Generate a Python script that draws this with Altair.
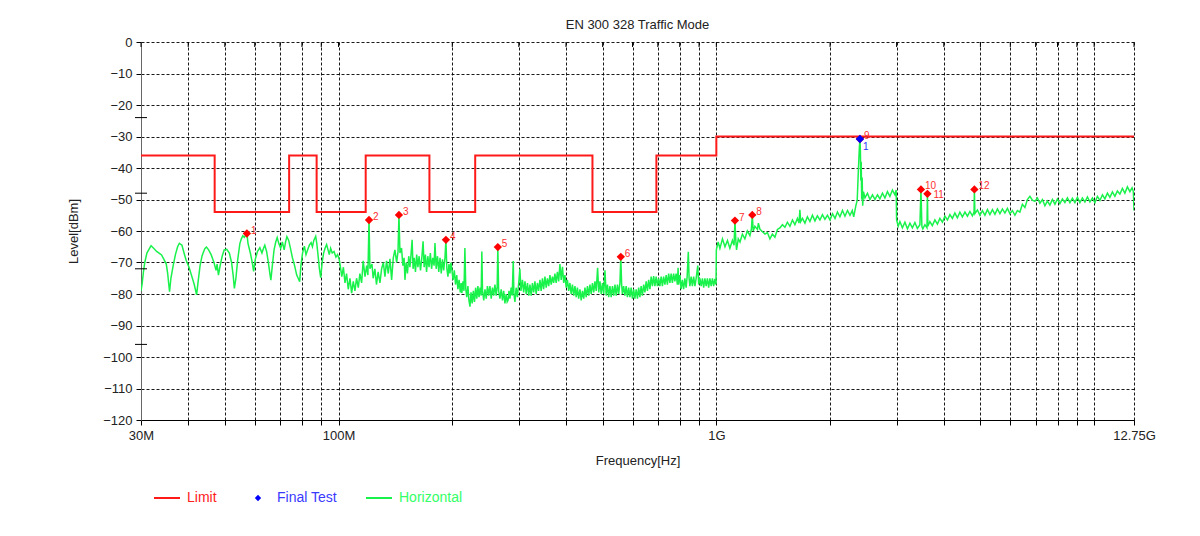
import altair as alt
import pandas as pd

title_text = "EN 300 328 Traffic Mode"
x_title = "Frequency[Hz]"
y_title = "Level[dBm]"

x_tick_values = [30, 40, 50, 60, 70, 80, 90, 100, 200, 300, 400, 500, 600, 700, 800, 900,
                 1000, 2000, 3000, 4000, 5000, 6000, 7000, 8000, 9000, 10000, 12750]
y_tick_values = [-120, -110, -100, -90, -80, -70, -60, -50, -40, -30, -20, -10, 0]
y_cross_ticks = [-24, -48, -72, -96]

limit_freq = [30, 47, 47, 74, 74, 87.5, 87.5, 118, 118, 174, 174, 230, 230, 470, 470, 694, 694, 1000, 1000, 12750]
limit_level = [-36, -36, -54, -54, -36, -36, -54, -54, -36, -36, -54, -54, -36, -36, -54, -54, -36, -36, -30, -30]

peak_no = ["1", "2", "3", "4", "5", "6", "7", "8", "9", "10", "11", "12"]
peak_freq = [57.2, 120.4, 144.5, 192.4, 264.0, 558.6, 1120, 1245, 2399, 3480, 3620, 4820]
peak_level = [-60.8, -56.5, -54.9, -62.8, -65.1, -68.2, -56.7, -54.9, -30.8, -46.8, -48.2, -46.8]

final_no = ["1"]
final_freq = [2399]
final_level = [-30.8]

# Horizontal trace (MHz, dBm)
seg_30M_100M = [
    (30.0, -79), (30.2, -76.9), (30.45, -73), (30.7, -70), (31.1, -67), (31.6, -65.5), (31.9, -64.7),
    (32.4, -65.5), (33.0, -66.5), (33.5, -67), (34.0, -67.6), (34.5, -69), (35.0, -70.5), (35.3, -73.5),
    (35.5, -76.5), (35.7, -79.3), (36.0, -75), (36.5, -71), (37.0, -67.5), (37.5, -65), (37.9, -63.9),
    (38.5, -64.5), (39.0, -67), (39.5, -69.3), (40.2, -71.5), (40.8, -74), (41.5, -77), (42.1, -80.3),
    (42.5, -76), (43.0, -71), (43.5, -68), (43.9, -66.7), (44.3, -65.5), (44.7, -65.1), (45.3, -66),
    (46.0, -67.5), (46.8, -70), (47.4, -72.5), (47.7, -70.5), (48.1, -74), (48.6, -71), (49.2, -68),
    (49.8, -66), (50.6, -65.8), (51.4, -67), (52.1, -70), (52.6, -74), (53.0, -78.2), (53.5, -75),
    (54.1, -69), (54.8, -64), (55.3, -62.5), (55.8, -61.5), (56.3, -62), (57.2, -60.8), (57.6, -64),
    (58.5, -67.3), (59.1, -70), (59.6, -72.8), (60.2, -69), (61.0, -66.5), (61.9, -65.3), (62.7, -67),
    (63.3, -65.5), (63.8, -64.5), (64.5, -66.5), (65.2, -70), (65.8, -73.5), (66.2, -75.6), (66.8, -71),
    (67.5, -66), (68.2, -63.5), (68.8, -62.1), (69.5, -64), (70.3, -65.5), (71.0, -63.5), (71.8, -66),
    (72.4, -63.5), (73.0, -61.8), (73.8, -63), (74.6, -65.5), (75.5, -68.5), (76.5, -71), (77.5, -74),
    (78.2, -75), (78.9, -76.1), (79.5, -71), (80.3, -67), (81.2, -64.8), (82.0, -67.5), (82.8, -66),
    (83.7, -64.5), (84.6, -63.7), (85.3, -65), (86.0, -63), (87.0, -61.7), (87.6, -64), (88.3, -68),
    (89.0, -72), (89.7, -74.8), (90.5, -70), (91.3, -67), (92.1, -65.5), (93.0, -64.3), (93.8, -66),
    (94.5, -67.5), (95.3, -65.5), (96.2, -67), (97.3, -66.5), (98.4, -68.3), (99.4, -67.5), (100.4, -69),
]

seg_100M_300M = [
    (100.9, -70.5), (102.0, -74.5), (103.0, -71.5), (104.0, -76.5), (105.0, -73.5), (106.1, -78.5),
    (107.2, -75), (108.3, -79.7), (109.4, -76), (110.5, -79), (111.6, -75), (112.8, -78), (113.9, -73.5),
    (115.1, -76.5), (116.2, -69.5), (117.5, -74.5), (118.7, -71), (119.6, -74), (120.4, -56.5),
    (121.1, -72), (122.6, -70.5), (123.5, -75), (124.8, -72), (126.0, -77), (127.3, -73), (128.7, -76.5),
    (130.0, -72), (131.4, -70), (132.7, -74.5), (134.0, -69.5), (135.4, -73.5), (136.8, -68.8),
    (138.2, -75.5), (139.6, -68.5), (141.0, -66), (142.5, -70), (143.7, -66.5), (144.5, -54.9),
    (145.4, -67), (146.8, -65.4), (148.0, -71), (149.1, -68.5), (149.9, -75.5), (151.0, -70),
    (152.2, -73.5), (153.4, -68), (154.5, -71.5), (155.2, -69), (156.6, -62.8), (157.5, -72),
    (158.6, -68.5), (159.8, -73), (161.0, -67.5), (162.2, -71.5), (163.4, -68), (164.8, -72.5),
    (166.0, -69), (167.4, -63.3), (168.5, -71.5), (169.8, -67.5), (171.0, -73), (172.3, -68),
    (173.6, -71.5), (175.0, -67), (176.3, -72), (177.6, -68.5), (179.0, -71), (180.0, -63.8),
    (181.3, -72), (182.8, -68), (184.2, -73), (185.6, -68.5), (187.0, -73.5), (188.4, -69),
    (189.8, -72.5), (191.3, -68.5), (192.4, -62.8), (193.5, -72), (194.8, -74.5), (196.0, -70.5),
    (197.2, -73.5), (198.4, -70), (199.5, -72.3), (201.0, -75.5), (202.5, -72.5), (204.0, -77),
    (205.5, -74), (207.0, -78.5), (208.5, -75.5), (210.0, -79.5), (211.2, -76.5), (212.0, -79.7),
    (213.5, -76), (214.8, -79), (216.0, -65.4), (217.2, -78.5), (218.5, -81), (220.0, -77.5),
    (221.4, -82), (222.8, -84), (224.2, -79.5), (225.8, -83), (227.4, -79), (229.0, -82.5),
    (230.6, -78), (232.2, -81.5), (233.8, -77.5), (235.4, -81), (237.0, -78), (238.5, -80.5),
    (239.5, -66.5), (240.5, -79), (242.3, -82), (244.1, -78.5), (246.0, -81.5), (247.8, -77.5),
    (249.7, -80.5), (251.6, -77.5), (253.6, -81.5), (255.5, -78), (257.4, -80.5), (259.4, -77),
    (261.4, -80.5), (263.0, -77.5), (264.0, -65.1), (265.3, -79), (267.4, -81.5), (269.5, -78.5),
    (271.6, -82), (273.6, -79), (275.7, -83), (277.8, -80), (279.5, -82.5), (281.0, -82),
    (282.6, -79), (284.2, -81.5), (286.3, -78), (288.2, -80.5), (290.0, -69.5), (291.2, -80),
    (293.0, -82.5), (295.2, -78), (297.5, -81), (299.8, -76.5), (302.0, -72), (304.0, -79),
]

seg_300M_1G = [
    (306.8, -75.5), (309.0, -79.5), (311.5, -76), (313.8, -80), (316.3, -76.5), (318.7, -80.5),
    (321.1, -77), (323.5, -80.5), (326.0, -76.5), (328.5, -79.5), (331.0, -76), (333.5, -80),
    (336.0, -76.5), (338.5, -79), (341.3, -75.5), (343.8, -79), (346.5, -75), (349.0, -78.5),
    (351.8, -74.5), (354.5, -78), (357.2, -75), (360.0, -77.5), (362.7, -74), (365.5, -77),
    (368.3, -74.5), (371.0, -76.5), (373.9, -73.5), (376.7, -76.5), (379.6, -73), (382.5, -76),
    (385.5, -70.5), (388.5, -75.5), (391.5, -71.4), (394.4, -76.5), (397.4, -74), (400.5, -78),
    (403.5, -75.5), (406.6, -79), (409.7, -76.5), (412.8, -80), (416.0, -77), (419.2, -80.5),
    (422.4, -77.5), (425.6, -81), (428.8, -78), (432.1, -81.5), (435.5, -78.5), (438.8, -82),
    (442.2, -79), (445.6, -81.5), (449.0, -78), (452.4, -81), (455.9, -77.5), (459.4, -80.5),
    (462.9, -77), (466.4, -80), (470.0, -76.5), (473.6, -79.5), (477.2, -76), (480.9, -79),
    (485.0, -71.7), (488.3, -79.5), (492.0, -76), (495.8, -80), (499.6, -76.5), (503.4, -80),
    (507.2, -72.5), (511.0, -80.5), (515.0, -77), (518.8, -81), (522.8, -77.5), (526.8, -81),
    (530.9, -77.5), (535.0, -80.5), (539.1, -77), (543.2, -80.5), (547.4, -77), (551.5, -80),
    (555.7, -76.5), (558.6, -68.2), (561.5, -77), (564.0, -80), (568.4, -77.5), (572.8, -80.5),
    (577.2, -77.5), (581.6, -81), (586.1, -78), (590.6, -81), (595.1, -78), (599.7, -81.5),
    (604.2, -78.5), (608.8, -81.5), (613.5, -78.5), (618.2, -81.5), (622.9, -78), (627.6, -81),
    (632.3, -77.5), (637.2, -80.5), (642.1, -77), (647.0, -79.5), (652.0, -76), (657.0, -79),
    (662.0, -75.5), (667.1, -78.5), (672.2, -74.5), (677.4, -77.5), (682.5, -74.3), (687.7, -77.5),
    (693.0, -74.5), (698.3, -77.5), (703.6, -75), (708.9, -77.5), (714.4, -74.5), (719.8, -77.5),
    (725.3, -74.5), (730.9, -77), (736.5, -74), (742.0, -77), (747.8, -73.5), (753.5, -76.5),
    (759.3, -73.5), (765.0, -76.5), (770.9, -73.5), (776.7, -76), (782.6, -73.5), (788.6, -77),
    (792.0, -71.7), (794.6, -77), (800.8, -74), (806.8, -78.5), (813.0, -75.5), (819.2, -78.5),
    (825.5, -75), (831.8, -78), (837.0, -74.5), (843.0, -66.6), (847.0, -75), (851.1, -77.5),
    (857.6, -74.5), (864.2, -77.5), (870.9, -74.5), (877.6, -77.5), (884.3, -75), (893.0, -71),
    (898.0, -77), (904.7, -75), (911.6, -77.5), (918.6, -75), (925.6, -78), (932.6, -75),
    (939.7, -77.5), (947.0, -75), (954.2, -78), (961.6, -75), (969.0, -77.5), (976.4, -75),
    (983.8, -77.5), (991.3, -75.2), (998.0, -77),
]

seg_1G_3G = [
    (1000, -66), (1011, -63.5), (1022, -65.5), (1038, -62.5), (1054, -65), (1070, -63), (1086, -65.5),
    (1103, -63), (1114, -64.5), (1120, -56.7), (1126, -63), (1131, -66), (1143, -62.5), (1155, -63.5),
    (1172, -61), (1190, -62.5), (1208, -60), (1227, -61.5), (1238, -59.5), (1245, -54.9), (1252, -60),
    (1265, -58.5), (1285, -59.5), (1292, -57.5), (1305, -59.5), (1319, -60), (1345, -61), (1365, -60.5),
    (1386, -62.5), (1407, -61), (1429, -62), (1451, -59.5), (1473, -59), (1496, -58), (1519, -58.8),
    (1542, -57.2), (1566, -58.5), (1590, -56.5), (1614, -58), (1639, -56), (1655, -57.5), (1664, -53.3),
    (1672, -57), (1690, -56), (1716, -57.5), (1742, -55.5), (1769, -57), (1796, -55), (1824, -56.8),
    (1851, -55.2), (1880, -56.5), (1909, -54.8), (1938, -56.3), (1968, -55), (1999, -56.5), (2030, -54.5),
    (2061, -56), (2092, -54), (2124, -55.5), (2157, -53.5), (2190, -55.3), (2224, -53.5), (2258, -55),
    (2290, -53.5), (2310, -55.5), (2340, -52), (2360, -50.2), (2376, -41), (2390, -34), (2399, -30.8),
    (2406, -34.3), (2412, -44), (2418, -38), (2425, -50), (2432, -43), (2440, -52), (2452, -47.5),
    (2474, -49.5), (2512, -48), (2550, -50), (2590, -48.5), (2630, -50), (2670, -48.5), (2710, -49.8),
    (2752, -48), (2794, -49.5), (2837, -47.5), (2880, -49), (2925, -47), (2969, -48.5), (2992, -47),
]

seg_3G_12G = [
    (3000, -56.5), (3030, -58.5), (3061, -57), (3108, -59), (3156, -57.2), (3205, -59.3), (3254, -57.5),
    (3303, -59), (3354, -57.3), (3405, -59.2), (3458, -58), (3480, -46.8), (3500, -58.5), (3520, -59.3),
    (3565, -58), (3610, -59), (3620, -48.2), (3630, -58.5), (3675, -57), (3730, -58.3), (3789, -56.5),
    (3847, -57.8), (3906, -56), (3966, -57.2), (4027, -55.3), (4089, -56.5), (4152, -54.8), (4215, -56),
    (4280, -54.3), (4345, -55.8), (4412, -54), (4480, -55.5), (4550, -54), (4620, -55.3), (4690, -53.8),
    (4762, -55.2), (4810, -54), (4820, -46.8), (4835, -54.5), (4910, -53.3), (4986, -55), (5062, -53.5),
    (5140, -55), (5218, -53.2), (5298, -54.8), (5380, -53.2), (5463, -54.7), (5546, -53), (5632, -54.5),
    (5718, -53), (5805, -54.3), (5894, -52.8), (5985, -54.5), (6077, -53.5), (6170, -55), (6264, -53.5),
    (6360, -54), (6458, -51.5), (6558, -52.5), (6658, -50), (6761, -49), (6864, -50.2), (6969, -50.6),
    (7076, -49.5), (7186, -51.2), (7296, -50), (7408, -52), (7522, -50.5), (7637, -51.8), (7755, -50),
    (7874, -51.5), (7995, -49.8), (8117, -51.3), (8242, -49.8), (8368, -51), (8497, -49.5), (8628, -51),
    (8760, -49.6), (8895, -51), (9031, -49.3), (9169, -51), (9310, -49.5), (9454, -50.8), (9600, -49.2),
    (9746, -50.8), (9895, -49.5), (10047, -51), (10200, -49), (10359, -50.3), (10518, -48.5),
    (10679, -49.8), (10843, -48), (11008, -49.3), (11177, -47.6), (11350, -49), (11523, -47.3),
    (11700, -48.3), (11880, -46.5), (12061, -48), (12246, -46), (12435, -47.5), (12600, -46.3),
    (12700, -47.5), (12750, -53.5),
]

RED = "#ff1a1a"
BLUE = "#0000ff"
GREEN = "#19f24a"
FONT = "Liberation Sans"

trace = seg_30M_100M + seg_100M_300M + seg_300M_1G + seg_1G_3G + seg_3G_12G
trace_df = pd.DataFrame({"freq": [p[0] for p in trace], "level": [p[1] for p in trace]})
trace_df["i"] = range(len(trace_df))
limit_df = pd.DataFrame({"freq": limit_freq, "level": limit_level, "i": range(len(limit_freq))})
peaks_df = pd.DataFrame({"freq": peak_freq, "level": peak_level, "no": peak_no})
final_df = pd.DataFrame({"freq": final_freq, "level": final_level, "no": final_no})
xt_df = pd.DataFrame({"freq": x_tick_values})
yc_df = pd.DataFrame({"level": y_cross_ticks})

label_expr = ("datum.value == 30 ? '30M' : datum.value == 100 ? '100M' : "
              "datum.value == 1000 ? '1G' : datum.value == 12750 ? '12.75G' : ''")

common_axis = dict(labelFont=FONT, titleFont=FONT, labelFontSize=13, titleFontSize=13,
                   titleFontWeight="normal", labelColor="#222", titleColor="#222",
                   grid=True, gridColor="#000", gridDash=[3, 2], gridWidth=1, gridOpacity=0.9)

xenc = alt.X("freq:Q",
             scale=alt.Scale(type="log", domain=[30, 12750], nice=False),
             axis=alt.Axis(values=x_tick_values, labelExpr=label_expr, title=x_title,
                           labelFlush=False, labelOverlap=False, labelBound=False,
                           tickSize=5, labelPadding=4, titlePadding=12,
                           domainColor="#000", tickColor="#000", **common_axis))
yenc = alt.Y("level:Q",
             scale=alt.Scale(domain=[-120, 0], nice=False),
             axis=alt.Axis(values=y_tick_values, title=y_title, tickSize=5, labelPadding=4,
                           titlePadding=22, domainColor="#666", tickColor="#000", **common_axis))

limit_layer = alt.Chart(limit_df).mark_line(color=RED, strokeWidth=2, clip=True).encode(
    x=xenc, y=yenc, order="i:Q")
trace_layer = alt.Chart(trace_df).mark_line(color=GREEN, strokeWidth=1.5, clip=True).encode(
    x=xenc, y=yenc, order="i:Q")
peaks_layer = alt.Chart(peaks_df).mark_point(shape="diamond", filled=True, size=70, color="#ff0000", opacity=1).encode(
    x=xenc, y=yenc)
peaks_text = alt.Chart(peaks_df).transform_filter("datum.no != '11'").mark_text(
    color="#ff3030", fontSize=10, font=FONT, align="left", dx=4, dy=-3).encode(
    x=xenc, y=yenc, text="no:N")
peaks_text_11 = alt.Chart(peaks_df).transform_filter("datum.no == '11'").mark_text(
    color="#ff3030", fontSize=10, font=FONT, align="left", dx=6, dy=1).encode(
    x=xenc, y=yenc, text="no:N")
final_layer = alt.Chart(final_df).mark_point(shape="diamond", filled=True, size=70, color=BLUE, opacity=1).encode(
    x=xenc, y=yenc)
final_text = alt.Chart(final_df).mark_text(color="#3030ff", fontSize=10, font=FONT, align="left", dx=3, dy=8).encode(
    x=xenc, y=yenc, text="no:N")
top_ticks = alt.Chart(xt_df).mark_rule(color="#000", strokeWidth=1).encode(
    x=xenc, y=alt.value(0), y2=alt.value(5))
cross_ticks = alt.Chart(yc_df).mark_rule(color="#000", strokeWidth=1).encode(
    y=yenc, x=alt.value(-6), x2=alt.value(6))

leg_y = 456
leg_df = pd.DataFrame({"k": [0]})
leg_limit_line = alt.Chart(leg_df).mark_rule(color=RED, strokeWidth=2).encode(
    x=alt.value(13), x2=alt.value(39), y=alt.value(leg_y))
leg_limit_text = alt.Chart(leg_df).mark_text(color="#ff2020", fontSize=14, font=FONT, align="left", baseline="middle").encode(
    x=alt.value(46), y=alt.value(leg_y), text=alt.value("Limit"))
leg_final_pt = alt.Chart(leg_df).mark_point(shape="diamond", filled=True, size=40, color=BLUE, opacity=1).encode(
    x=alt.value(117), y=alt.value(leg_y))
leg_final_text = alt.Chart(leg_df).mark_text(color="#3a3aff", fontSize=14, font=FONT, align="left", baseline="middle").encode(
    x=alt.value(136), y=alt.value(leg_y), text=alt.value("Final Test"))
leg_h_line = alt.Chart(leg_df).mark_rule(color=GREEN, strokeWidth=2).encode(
    x=alt.value(225), x2=alt.value(251), y=alt.value(leg_y))
leg_h_text = alt.Chart(leg_df).mark_text(color="#33ff66", fontSize=14, font=FONT, align="left", baseline="middle").encode(
    x=alt.value(258), y=alt.value(leg_y), text=alt.value("Horizontal"))

chart = alt.layer(
    limit_layer, trace_layer, peaks_layer, peaks_text, peaks_text_11, final_layer, final_text,
    top_ticks, cross_ticks,
    leg_limit_line, leg_limit_text, leg_final_pt, leg_final_text, leg_h_line, leg_h_text,
).properties(
    width=993, height=378,
    title=alt.TitleParams(title_text, fontSize=13, fontWeight="normal", font=FONT, color="#222", offset=4),
    autosize=alt.AutoSizeParams(type="none"),
    padding={"left": 133, "top": 34, "right": 58, "bottom": 100},
    background="white",
).configure_view(
    stroke=None
)

chart.save("out.html", embed_options={"renderer": "svg", "actions": False})
